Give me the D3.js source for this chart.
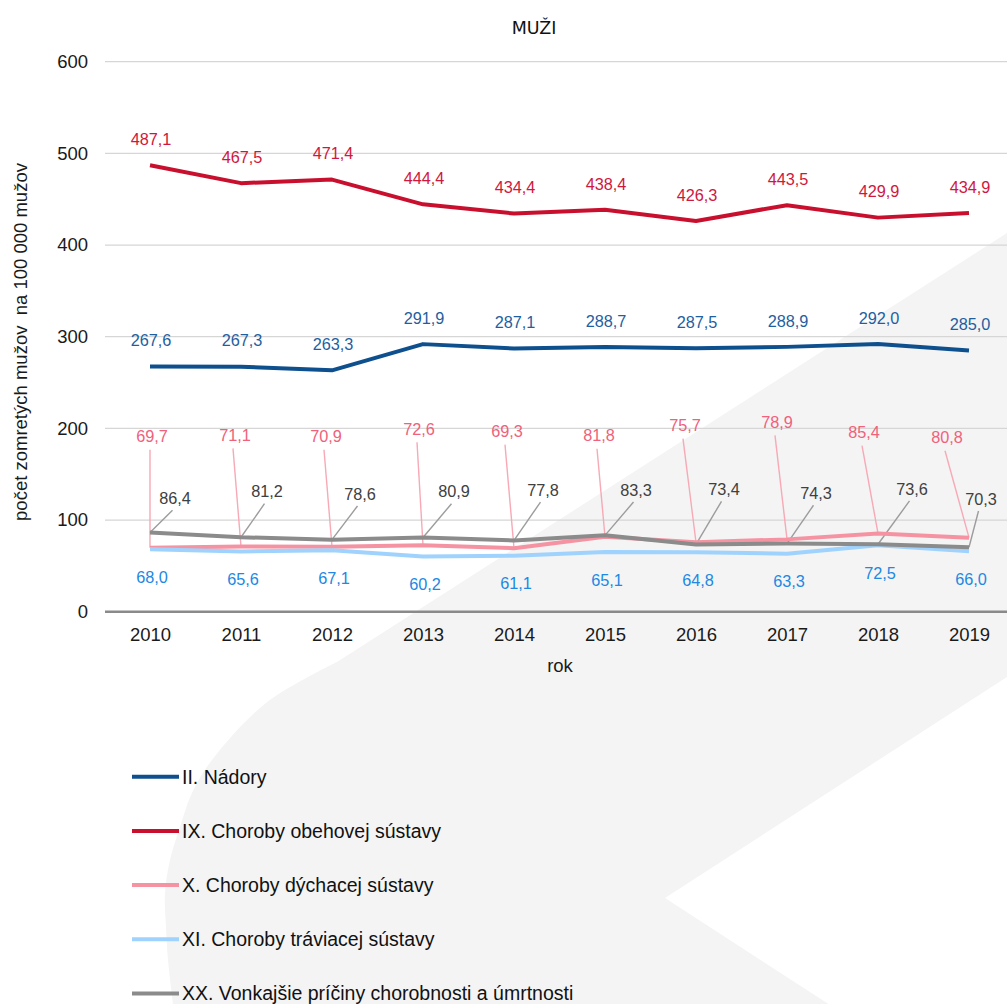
<!DOCTYPE html>
<html>
<head>
<meta charset="utf-8">
<script src="https://cdn.jsdelivr.net/npm/d3@7"></script>
<style>
  html, body { margin: 0; padding: 0; background: #ffffff; }
  svg { display: block; }
  text { font-family: "Liberation Sans", Arial, sans-serif; }
</style>
</head>
<body>
<svg id="chart" width="1007" height="1004"></svg>
<script>
// ---------- data ----------
const years = ["2010","2011","2012","2013","2014","2015","2016","2017","2018","2019"];
const seriesNames = [
  "II. Nádory",
  "IX. Choroby obehovej sústavy",
  "X. Choroby dýchacej sústavy",
  "XI. Choroby tráviacej sústavy",
  "XX. Vonkajšie príčiny chorobnosti a úmrtnosti"
];
const nadory   = [267.6, 267.3, 263.3, 291.9, 287.1, 288.7, 287.5, 288.9, 292.0, 285.0];
const obehova  = [487.1, 467.5, 471.4, 444.4, 434.4, 438.4, 426.3, 443.5, 429.9, 434.9];
const dychacia = [69.7, 71.1, 70.9, 72.6, 69.3, 81.8, 75.7, 78.9, 85.4, 80.8];
const traviaca = [68.0, 65.6, 67.1, 60.2, 61.1, 65.1, 64.8, 63.3, 72.5, 66.0];
const vonkajsie = [86.4, 81.2, 78.6, 80.9, 77.8, 83.3, 73.4, 74.3, 73.6, 70.3];
const yTicks = [0, 100, 200, 300, 400, 500, 600];

// ---------- layout (placement of the callout labels, in value units / px nudges) ----------
const dychLabelAt = [190.9, 192.4, 190.9, 199.0, 196.4, 192.0, 202.9, 206.6, 195.3, 189.8];
const dychLabelDx = [2, -6, -6, -4, -7, -6, -11, -10, -14, -22];
const vonkLabelAt = [123.7, 130.9, 128.4, 130.9, 132.7, 132.7, 133.5, 129.2, 133.9, 122.9];
const vonkLabelDx = [25, 26, 28, 31, 29, 31, 28, 29, 34, 12];

const colors = {
  nadory:   { line: "#0e4f8e", label: "#1f5f9f" },
  obehova:  { line: "#c8102e", label: "#d0173d" },
  dychacia: { line: "#f593a3", label: "#f0617c", leader: "#f7a9b6" },
  traviaca: { line: "#9fd3fd", label: "#2188e3" },
  vonkajsie:{ line: "#8b8b8b", label: "#404040", leader: "#9c9c9c" }
};

const svg = d3.select("#chart");
const W = 1007, H = 1004;

// ---------- background decoration ----------
const bgOuter = [[337,662],[266,703],[212,760],[192,793],[180,827],[170,860],[165,893],[166,927],[168,960],[173,1004]];
const curve = d3.line().curve(d3.curveCatmullRom)(bgOuter);
svg.append("path")
  .attr("d", "M1007,233 L" + bgOuter[0].join(",") + curve.slice(curve.indexOf("C")) +
        " L173,1004 L828.5,1004 L665,898 L1007,677 Z")
  .attr("fill", "#f4f4f4");

// ---------- scales ----------
const x = d3.scalePoint().domain(years).range([150, 969]);
const y = d3.scaleLinear().domain([0, 600]).range([611.7, 61.7]);

// gridlines
svg.append("g").selectAll("line").data(yTicks.filter(d => d > 0)).join("line")
  .attr("x1", 105).attr("x2", W)
  .attr("y1", d => y(d)).attr("y2", d => y(d))
  .attr("stroke", "#d6d6d6").attr("stroke-width", 1.3);

// y axis labels
const yAxis = d3.axisLeft(y).tickValues(yTicks).tickSize(0).tickPadding(0).tickFormat(d3.format("d"));
const gy = svg.append("g").attr("transform", "translate(88,0)").call(yAxis);
gy.select(".domain").remove();
gy.selectAll("text").attr("font-size", 18.5).attr("fill", "#1a1a1a")
  .attr("font-family", "Liberation Sans, Arial, sans-serif");

// x axis
const xAxis = d3.axisBottom(x).tickSize(0).tickPadding(0);
const gx = svg.append("g").attr("transform", `translate(0,${y(0)})`).call(xAxis);
gx.select(".domain").remove();
gx.selectAll("text").attr("font-size", 18.5).attr("fill", "#1a1a1a")
  .attr("dy", 0).attr("y", 29.5)
  .attr("font-family", "Liberation Sans, Arial, sans-serif");
svg.append("line").attr("x1", 105).attr("x2", W).attr("y1", y(0)).attr("y2", y(0))
  .attr("stroke", "#8a8a8a").attr("stroke-width", 2.5);

// titles
svg.append("text").attr("x", 534).attr("y", 33.5).attr("text-anchor", "middle")
  .style("font-family", "'DejaVu Sans', sans-serif").attr("font-size", 17.5).attr("fill", "#111")
  .text("MUŽI");
svg.append("text").attr("x", 560).attr("y", 671.5).attr("text-anchor", "middle")
  .attr("font-size", 18.5).attr("fill", "#1a1a1a").text("rok");
svg.append("text")
  .attr("transform", "translate(27,342) rotate(-90)")
  .attr("text-anchor", "middle").attr("font-size", 18.5).attr("fill", "#1a1a1a")
  .style("white-space", "pre")
  .text("počet zomretých mužov  na 100 000 mužov");

// ---------- lines ----------
const line = d3.line().x((d, i) => x(years[i])).y(d => y(d));
const series = [
  { key: "nadory", values: nadory },
  { key: "obehova", values: obehova },
  { key: "dychacia", values: dychacia },
  { key: "traviaca", values: traviaca },
  { key: "vonkajsie", values: vonkajsie }
];

// leader lines (under labels)
const leaders = svg.append("g");
dychacia.forEach((v, i) => {
  const lx = x(years[i]) + dychLabelDx[i], ly = y(dychLabelAt[i]);
  leaders.append("line").attr("x1", lx - 2).attr("y1", ly + 13)
    .attr("x2", x(years[i])).attr("y2", y(v))
    .attr("stroke", colors.dychacia.leader).attr("stroke-width", 1.4);
});
vonkajsie.forEach((v, i) => {
  const lx = x(years[i]) + vonkLabelDx[i], ly = y(vonkLabelAt[i]);
  leaders.append("line").attr("x1", lx - 2.5).attr("y1", ly + 12)
    .attr("x2", x(years[i])).attr("y2", y(v))
    .attr("stroke", colors.vonkajsie.leader).attr("stroke-width", 1.4);
});

svg.append("g").selectAll("path").data(series).join("path")
  .attr("d", d => line(d.values))
  .attr("fill", "none")
  .attr("stroke", d => colors[d.key].line)
  .attr("stroke-width", 4)
  .attr("stroke-linejoin", "round");

// ---------- data labels ----------
const fmt = v => d3.format(".1f")(v).replace(".", ",");
const labels = svg.append("g").attr("font-size", 16.3).attr("text-anchor", "middle");
function lab(xp, yp, t, c) {
  labels.append("text").attr("x", xp).attr("y", yp).attr("dy", "0.35em").attr("fill", c).text(t);
}
nadory.forEach((v, i) => lab(x(years[i]) + 1, y(v) - 26, fmt(v), colors.nadory.label));
obehova.forEach((v, i) => lab(x(years[i]) + 1, y(v) - 26, fmt(v), colors.obehova.label));
traviaca.forEach((v, i) => lab(x(years[i]) + 2, y(v) + 28, fmt(v), colors.traviaca.label));
dychacia.forEach((v, i) => lab(x(years[i]) + dychLabelDx[i], y(dychLabelAt[i]), fmt(v), colors.dychacia.label));
vonkajsie.forEach((v, i) => lab(x(years[i]) + vonkLabelDx[i], y(vonkLabelAt[i]), fmt(v), colors.vonkajsie.label));

// ---------- legend ----------
const legend = svg.append("g");
series.forEach((s, i) => {
  const ly = 776.7 + i * 54.2;
  legend.append("line").attr("x1", 132).attr("x2", 179).attr("y1", ly).attr("y2", ly)
    .attr("stroke", colors[s.key].line).attr("stroke-width", 4);
  legend.append("text").attr("x", 182).attr("y", ly).attr("dy", "0.35em")
    .attr("font-size", 19.5).attr("fill", "#111").text(seriesNames[i]);
});
</script>
</body>
</html>
